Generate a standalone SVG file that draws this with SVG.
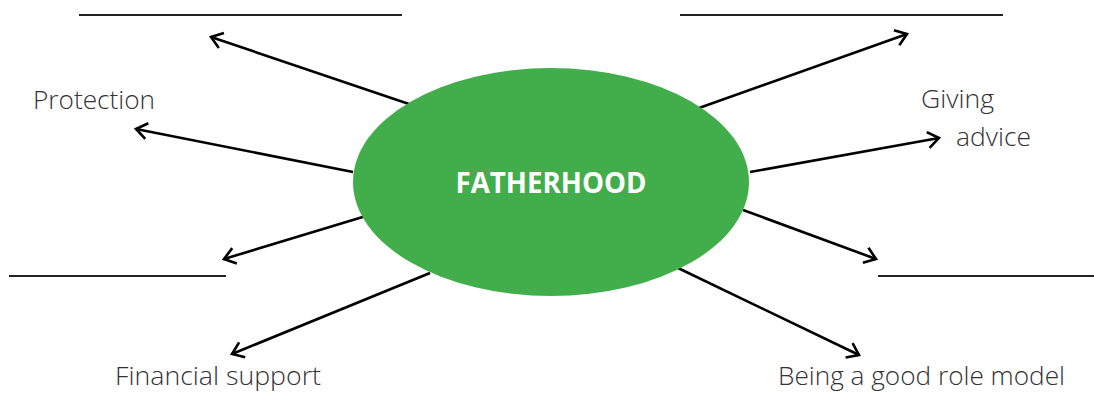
<svg xmlns="http://www.w3.org/2000/svg" width="1094" height="396" viewBox="0 0 1094 396">
<style>
.lbl{font-family:"Open Sans","Liberation Sans",sans-serif;font-weight:300;font-size:26px;fill:#333}
.blank{stroke:#222;stroke-width:1.8}
.arr{stroke:#000;stroke-width:2.6;fill:none;marker-end:url(#ah)}
.title{font-family:"Open Sans","Liberation Sans",Arial,sans-serif;font-weight:bold;font-size:28px;fill:#fff}
</style>
<defs>
<marker id="ah" markerUnits="userSpaceOnUse" viewBox="0 0 16 22" refX="14" refY="11" markerWidth="16" markerHeight="22" orient="auto">
<path d="M3,3 L14,11 L3,19" fill="none" stroke="#000" stroke-width="2.6"/>
</marker>
</defs>
<rect width="1094" height="396" fill="#fff"/>
<g id="connectors">
<line class="arr" x1="409" y1="104" x2="211" y2="37"/>
<line class="arr" x1="353" y1="172" x2="136" y2="129"/>
<line class="arr" x1="366" y1="216" x2="224" y2="259"/>
<line class="arr" x1="430" y1="273" x2="232" y2="354"/>
<line class="arr" x1="699" y1="108" x2="907" y2="34"/>
<line class="arr" x1="750" y1="172" x2="939" y2="138"/>
<line class="arr" x1="743" y1="210" x2="876" y2="259"/>
<line class="arr" x1="678" y1="268" x2="859" y2="355"/>
</g>
<g id="center">
<ellipse cx="551" cy="182" rx="198" ry="114" fill="#42ad4b"/>
<text class="title" x="551" y="193" text-anchor="middle" textLength="191" lengthAdjust="spacingAndGlyphs">FATHERHOOD</text>
</g>
<g id="blank-top-left"><line class="blank" x1="79" y1="15" x2="402" y2="15"/></g>
<g id="blank-top-right"><line class="blank" x1="680" y1="15" x2="1003" y2="15"/></g>
<g id="blank-mid-left"><line class="blank" x1="9" y1="276" x2="226" y2="276"/></g>
<g id="blank-mid-right"><line class="blank" x1="878" y1="276" x2="1094" y2="276"/></g>
<g id="protection"><text class="lbl" x="33" y="109" textLength="122" lengthAdjust="spacingAndGlyphs">Protection</text></g>
<g id="giving-advice">
<text class="lbl" x="921" y="108" textLength="73" lengthAdjust="spacingAndGlyphs">Giving</text>
<text class="lbl" x="956" y="146" textLength="75" lengthAdjust="spacingAndGlyphs">advice</text>
</g>
<g id="financial-support"><text class="lbl" x="115" y="385" textLength="206" lengthAdjust="spacingAndGlyphs">Financial support</text></g>
<g id="role-model"><text class="lbl" x="778" y="385" textLength="287" lengthAdjust="spacingAndGlyphs">Being a good role model</text></g>
</svg>
